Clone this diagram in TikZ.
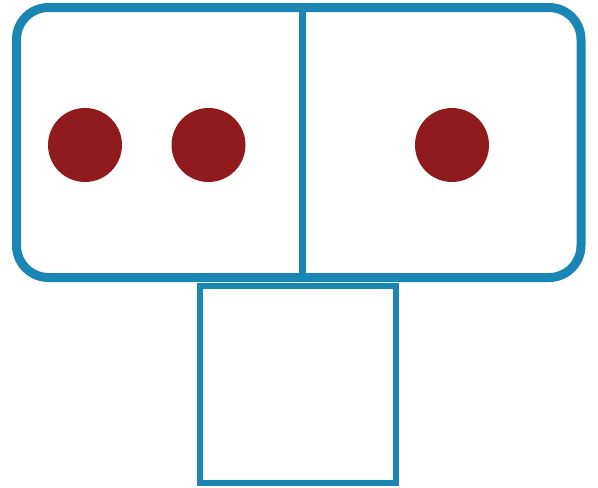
\documentclass[tikz,border=0pt]{standalone}
\usepackage{tikz}
\usetikzlibrary{positioning}
\definecolor{frameblue}{HTML}{1A86B4}
\definecolor{dotred}{HTML}{901B1F}

\begin{document}
\begin{tikzpicture}[x=1pt, y=-1pt]
  \useasboundingbox (0, 0) rectangle (598, 488);

  % Outer frame with two cells
  \draw[frameblue, line width=9pt, rounded corners=32pt]
    (16.5, 7.5) rectangle (581, 277.5);
  \coordinate (divtop) at (302, 7.5);
  \coordinate (divbot) at (302, 277.5);
  \draw[frameblue, line width=7pt] (divtop) -- (divbot);

  % Box below
  \node[draw=frameblue, line width=6pt, rectangle, inner sep=0pt,
        minimum width=196pt, minimum height=197pt]
    (box) at (298, 384.5) {};

  % Dots
  \node[circle, fill=dotred, inner sep=0pt, minimum size=74pt] (dotA) at (85, 145) {};
  \node[circle, fill=dotred, inner sep=0pt, minimum size=74pt] (dotB) at (208.5, 145) {};
  \node[circle, fill=dotred, inner sep=0pt, minimum size=74pt] (dotC) at (452, 145) {};
\end{tikzpicture}
\end{document}
